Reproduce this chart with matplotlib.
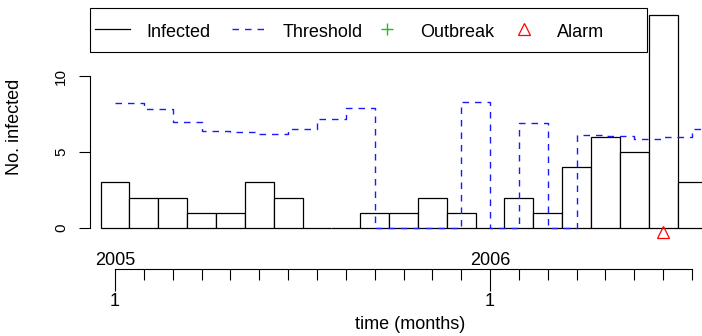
import matplotlib
matplotlib.use("Agg")
import matplotlib.pyplot as plt
from matplotlib.lines import Line2D
from matplotlib.patches import Rectangle
import numpy as np

# ---- data ----
years = [2005] * 13 + [2006] * 8
periods = list(range(1, 14)) + list(range(1, 9))
infected = [3, 2, 2, 1, 1, 3, 2, 0, 0, 1, 1, 2, 1, 0, 2, 1, 4, 6, 5, 14, 3]
threshold = [8.25, 7.8, 6.95, 6.37, 6.34, 6.2, 6.49, 7.15, 7.87, 0, 0, 0,
             8.27, 0, 6.93, 0, 6.13, 6.04, 5.88, 5.97, 6.5]
outbreak = [0] * 21
alarm = [0] * 19 + [1, 0]
legend_labels = ["Infected", "Threshold", "Outbreak", "Alarm"]

plt.rcParams['font.family'] = ['Liberation Sans', 'DejaVu Sans']

W, H = 702, 336
fig = plt.figure(figsize=(W / 100, H / 100), dpi=100)


def fx(px):
    return px / W


def fy(py):
    return 1 - py / H


AX_L, AX_R, AX_T, AX_B = 90, 702, 6.7, 236.5
ax = fig.add_axes([fx(AX_L), fy(AX_B), fx(AX_R) - fx(AX_L), fy(AX_T) - fy(AX_B)])


def ax_x(px):
    return (px - AX_L) / (AX_R - AX_L)


def ax_y(py):
    return (AX_B - py) / (AX_B - AX_T)


x = np.arange(len(infected))
ax.bar(x, infected, width=1.0, color='white', edgecolor='black', linewidth=0.9, zorder=2)

xs = np.append(x, x[-1] + 1)
ts = np.append(threshold, threshold[-1])
ax.step(xs, ts, where='post', color='#1a1aff', lw=1.0, linestyle=(0, (4.7, 4.3)), zorder=3)

ymax = max(infected)
al = x[np.array(alarm) == 1]
ax.plot(al, np.full(len(al), -0.017 * ymax), linestyle='none', marker='^', ms=8.5,
        mfc='none', mec='red', mew=0.9, clip_on=False, zorder=4)
ob = x[np.array(outbreak) == 1]
ax.plot(ob, np.full(len(ob), -0.017 * ymax), linestyle='none', marker='+', ms=9,
        mec='#22bb22', mew=1.0, clip_on=False, zorder=4)

ax.set_xlim(-0.8666, 20.346)
ax.set_ylim(-0.56, 14.56)
ax.patch.set_visible(False)
for s in ['top', 'right', 'bottom']:
    ax.spines[s].set_visible(False)
ax.spines['left'].set_bounds(0, 10)
ax.spines['left'].set_linewidth(0.8)
ax.set_xticks([])
ax.set_yticks([0, 5, 10])
ax.set_yticklabels(['0', '5', '10'])
ax.tick_params(axis='y', length=7.7, width=0.8, pad=8, labelsize=11, labelrotation=90)
for lbl in ax.get_yticklabels():
    lbl.set_va('center')
ax.set_ylabel('No. infected', fontsize=13)
ax.yaxis.set_label_coords(ax_x(15), ax_y(127))
ax.yaxis.label.set_va('center')

# ---- manual legend (equal column pitch like R horiz legend) ----
frame = Rectangle((ax_x(90), ax_y(52.3)), ax_x(647) - ax_x(90), ax_y(7.5) - ax_y(52.3),
                  transform=ax.transAxes, facecolor='white', edgecolor='black', lw=0.8,
                  clip_on=False, zorder=5)
ax.add_patch(frame)
pitch = 136.9
hc0 = 112.9
row_y = 29.3
styles = [
    dict(color='black', lw=0.9, linestyle='-'),
    dict(color='#1a1aff', lw=1.0, linestyle=(0, (4.7, 4.3))),
    dict(linestyle='none', marker='+', ms=9, mec='#22bb22', mew=1.0),
    dict(linestyle='none', marker='^', ms=8.5, mfc='none', mec='red', mew=0.9),
]
for k, (lab, st) in enumerate(zip(legend_labels, styles)):
    cx = hc0 + pitch * k
    if st.get('linestyle') == 'none':
        ln = Line2D([ax_x(cx)], [ax_y(row_y)], transform=ax.transAxes, clip_on=False,
                    zorder=6, **st)
    else:
        ln = Line2D([ax_x(cx - 17.5), ax_x(cx + 17.5)], [ax_y(row_y)] * 2,
                    transform=ax.transAxes, clip_on=False, zorder=6, **st)
    ax.add_line(ln)
    ax.text(ax_x(cx + 33.1), ax_y(37.3), lab, transform=ax.transAxes, fontsize=13,
            ha='left', va='baseline', zorder=6)

# ---- time axis below ----
LINE_Y = 269.3
ax2 = fig.add_axes([fx(AX_L), fy(LINE_Y), fx(AX_R) - fx(AX_L), fy(LINE_Y - 20) - fy(LINE_Y)])
ax2.set_xlim(ax.get_xlim())
ax2.set_ylim(0, 1)
ax2.patch.set_visible(False)
for s in ['top', 'right', 'left']:
    ax2.spines[s].set_visible(False)
ax2.spines['bottom'].set_bounds(x[0], x[-1])
ax2.spines['bottom'].set_linewidth(0.8)
ax2.set_yticks([])
starts = [i for i, p in enumerate(periods) if p == 1]
ax2.set_xticks(starts)
ax2.set_xticklabels([str(periods[i]) for i in starts])
ax2.set_xticks(x, minor=True)
ax2.tick_params(axis='x', which='major', length=16, width=0.8, pad=1.2, labelsize=13)
ax2.tick_params(axis='x', which='minor', length=8.2, width=0.8)
for i in starts:
    ax2.annotate(str(years[i]), xy=(x[i], 0), xycoords=('data', 'axes fraction'),
                 xytext=(0, 3.1), textcoords='offset points', ha='center', va='baseline',
                 fontsize=13, annotation_clip=False)
ax2.set_xlabel('time (months)', fontsize=13)
ax2.xaxis.set_label_coords((410 - AX_L) / (AX_R - AX_L), -(329 - LINE_Y) / 20)
ax2.xaxis.label.set_va('baseline')

fig.savefig('out.png', dpi=100)
